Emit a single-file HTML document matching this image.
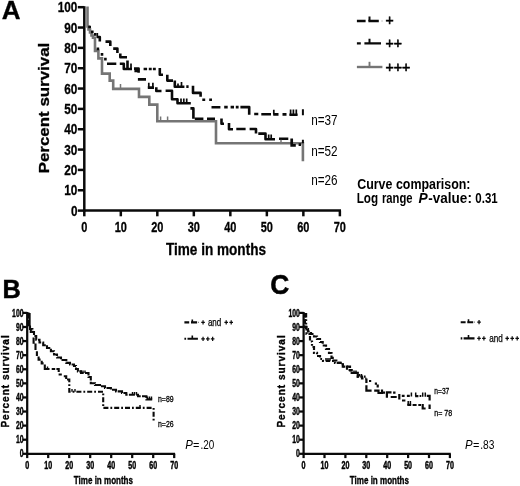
<!DOCTYPE html>
<html><head><meta charset="utf-8"><title>Survival curves</title>
<style>
html,body{margin:0;padding:0;background:#fff;}
body{width:520px;height:486px;overflow:hidden;}
svg{display:block;font-family:"Liberation Sans", sans-serif;filter:grayscale(1) blur(0.4px);}
text{font-family:"Liberation Sans", sans-serif;}
</style></head>
<body>
<svg width="520" height="486" viewBox="0 0 520 486">
<rect width="520" height="486" fill="#ffffff"/>
<g opacity="0.999">
<g stroke="#0a0a0a" stroke-width="2.5" fill="none" stroke-linecap="butt">
<path d="M84.3,6.2 V211.6"/>
<path d="M83.3,210.6 H341"/>
<path d="M77.8,210.60 H84.3"/>
<path d="M77.8,190.26 H84.3"/>
<path d="M77.8,169.92 H84.3"/>
<path d="M77.8,149.58 H84.3"/>
<path d="M77.8,129.24 H84.3"/>
<path d="M77.8,108.90 H84.3"/>
<path d="M77.8,88.56 H84.3"/>
<path d="M77.8,68.22 H84.3"/>
<path d="M77.8,47.88 H84.3"/>
<path d="M77.8,27.54 H84.3"/>
<path d="M77.8,7.20 H84.3"/>
<path d="M84.30,210.6 V216.3"/>
<path d="M120.81,210.6 V216.3"/>
<path d="M157.32,210.6 V216.3"/>
<path d="M193.83,210.6 V216.3"/>
<path d="M230.34,210.6 V216.3"/>
<path d="M266.85,210.6 V216.3"/>
<path d="M303.36,210.6 V216.3"/>
<path d="M339.87,210.6 V216.3"/>
</g>
<text x="77.4" y="215.8" font-size="14.8" font-weight="bold" text-anchor="end" fill="#000" textLength="6.5" lengthAdjust="spacingAndGlyphs" stroke="#000" stroke-width="0.3">0</text>
<text x="77.4" y="195.46" font-size="14.8" font-weight="bold" text-anchor="end" fill="#000" textLength="13.1" lengthAdjust="spacingAndGlyphs" stroke="#000" stroke-width="0.3">10</text>
<text x="77.4" y="175.12" font-size="14.8" font-weight="bold" text-anchor="end" fill="#000" textLength="13.1" lengthAdjust="spacingAndGlyphs" stroke="#000" stroke-width="0.3">20</text>
<text x="77.4" y="154.78" font-size="14.8" font-weight="bold" text-anchor="end" fill="#000" textLength="13.1" lengthAdjust="spacingAndGlyphs" stroke="#000" stroke-width="0.3">30</text>
<text x="77.4" y="134.44" font-size="14.8" font-weight="bold" text-anchor="end" fill="#000" textLength="13.1" lengthAdjust="spacingAndGlyphs" stroke="#000" stroke-width="0.3">40</text>
<text x="77.4" y="114.1" font-size="14.8" font-weight="bold" text-anchor="end" fill="#000" textLength="13.1" lengthAdjust="spacingAndGlyphs" stroke="#000" stroke-width="0.3">50</text>
<text x="77.4" y="93.76" font-size="14.8" font-weight="bold" text-anchor="end" fill="#000" textLength="13.1" lengthAdjust="spacingAndGlyphs" stroke="#000" stroke-width="0.3">60</text>
<text x="77.4" y="73.42" font-size="14.8" font-weight="bold" text-anchor="end" fill="#000" textLength="13.1" lengthAdjust="spacingAndGlyphs" stroke="#000" stroke-width="0.3">70</text>
<text x="77.4" y="53.08" font-size="14.8" font-weight="bold" text-anchor="end" fill="#000" textLength="13.1" lengthAdjust="spacingAndGlyphs" stroke="#000" stroke-width="0.3">80</text>
<text x="77.4" y="32.74" font-size="14.8" font-weight="bold" text-anchor="end" fill="#000" textLength="13.1" lengthAdjust="spacingAndGlyphs" stroke="#000" stroke-width="0.3">90</text>
<text x="77.4" y="12.4" font-size="14.8" font-weight="bold" text-anchor="end" fill="#000" textLength="19.6" lengthAdjust="spacingAndGlyphs" stroke="#000" stroke-width="0.3">100</text>
<text x="84.3" y="232.2" font-size="15.0" font-weight="bold" text-anchor="middle" fill="#000" textLength="6.1" lengthAdjust="spacingAndGlyphs" stroke="#000" stroke-width="0.3">0</text>
<text x="120.81" y="232.2" font-size="15.0" font-weight="bold" text-anchor="middle" fill="#000" textLength="12.2" lengthAdjust="spacingAndGlyphs" stroke="#000" stroke-width="0.3">10</text>
<text x="157.32" y="232.2" font-size="15.0" font-weight="bold" text-anchor="middle" fill="#000" textLength="12.2" lengthAdjust="spacingAndGlyphs" stroke="#000" stroke-width="0.3">20</text>
<text x="193.83" y="232.2" font-size="15.0" font-weight="bold" text-anchor="middle" fill="#000" textLength="12.2" lengthAdjust="spacingAndGlyphs" stroke="#000" stroke-width="0.3">30</text>
<text x="230.34" y="232.2" font-size="15.0" font-weight="bold" text-anchor="middle" fill="#000" textLength="12.2" lengthAdjust="spacingAndGlyphs" stroke="#000" stroke-width="0.3">40</text>
<text x="266.85" y="232.2" font-size="15.0" font-weight="bold" text-anchor="middle" fill="#000" textLength="12.2" lengthAdjust="spacingAndGlyphs" stroke="#000" stroke-width="0.3">50</text>
<text x="303.36" y="232.2" font-size="15.0" font-weight="bold" text-anchor="middle" fill="#000" textLength="12.2" lengthAdjust="spacingAndGlyphs" stroke="#000" stroke-width="0.3">60</text>
<text x="339.87" y="232.2" font-size="15.0" font-weight="bold" text-anchor="middle" fill="#000" textLength="12.2" lengthAdjust="spacingAndGlyphs" stroke="#000" stroke-width="0.3">70</text>
<text x="166" y="254.5" font-size="15.6" font-weight="bold" text-anchor="start" fill="#000" textLength="100" lengthAdjust="spacingAndGlyphs" stroke="#000" stroke-width="0.3">Time in months</text>
<text x="48.6" y="173.3" font-size="14.6" font-weight="bold" text-anchor="start" fill="#000" textLength="130.6" lengthAdjust="spacingAndGlyphs" transform="rotate(-90 48.6 173.3)" stroke="#000" stroke-width="0.3">Percent survival</text>
<text x="1.7" y="19.2" font-size="26" font-weight="bold" text-anchor="start" fill="#000" textLength="18.8" lengthAdjust="spacingAndGlyphs" stroke="#000" stroke-width="0.3">A</text>
<path d="M97,37 H99.8 V41.6 M105.5,41.6 H110.3 V46 M113.2,48.6 H117.4 V53 M120.3,53.5 V57.2 H127 M127.5,60.5 V69 H132 M143.6,69 H147.1 M148.8,69 H151.7 M152.9,69 H155.8 M159.8,68 V74.8 H163 M167.3,74.8 V80.6 H173 M174.8,80.5 V86.7 H184.4 M186.3,86.6 H188.6 M193,85.8 V92.9 H200.6 V96.8 M202.3,99.8 H205.2 M209.2,99.8 H212 M211.5,107.2 H220.4 M224.2,107.1 H227.7 M230.6,107.1 H234 M235.8,107.1 H238.6 M240.4,107.1 H249.2 V114.8 M254.2,114 H258.3 M261.3,114.3 H271 M273.2,114.4 H278.5 M282.5,114.4 H286.5 M289.4,114.8 H297.6" stroke="#0a0a0a" stroke-width="2.6" fill="none" stroke-linejoin="round"/>
<path d="M107,63.8 H116.3 M119.8,63.8 H123.8 V69 H127 M134,68.6 H138.6 V72.8 M134.4,71 H138.6 M137.9,79.4 H146 M147.8,87.6 H154 M156.3,87.3 V91 H161.5 M165.6,90.7 H172 V99.2 H177.5 V103.3 H190.8 M190.4,108.4 H193.4 V118.8 M194.8,118.8 H203.4 M207,118.8 H215 M221.5,118.4 V123.8 H224 M229,123 V129.3 H233 M236.3,129 H245.6 M249.6,129 H256 V133.6 M258.3,133.6 H265.5 V139.3 H275 M279,138.7 H288.3" stroke="#0a0a0a" stroke-width="2.6" fill="none" stroke-linejoin="round"/>
<path d="M97.3,33 V38 M131,63.5 V69 M178,83.5 V86.7 M181.5,82 V86.7 M273.8,109.8 V114.4 M290.6,109.5 V115 M293.4,109.5 V115 M296.3,109.5 V115 M148.8,82.7 V88 M152.9,82.7 V88 M181,98.4 V103.3 M183.8,98.4 V103.3 M186.7,98.4 V103.3 M268.7,134.4 V139.3 M271.2,134.4 V139.3" stroke="#0a0a0a" stroke-width="1.7" fill="none"/>
<path d="M87.5,6.4 V26.5 H88.5 V29.5 H90 V32.5 H91.5 V35.5 H93 V37.8 H95 V50.9 H98.4 V58.4 H102 V73.6 H109.7 V80.6 H113.2 V88.9 H139 V96.9 H149.3 V104.6 H157.3 V121.2 H216 V143.2 H302.9 V161.3" stroke="#757575" stroke-width="2.6" fill="none"/>
<path d="M120.5,88.9 V84 M160.6,121 V116.4 M167.6,121 V116.4 M281,143 V139.8" stroke="#757575" stroke-width="1.5" fill="none"/>
<path d="M88.2,27 H91 M91,31.8 H93.6 M94,34.4 H96.4 M96.6,48.8 H99.2 M100.7,54.4 H103.3 M104.1,59.1 H106.7 M291.7,138.4 V145.4 H295.8 M298.6,144.6 H301" stroke="#0a0a0a" stroke-width="2.7" fill="none"/>
<path d="M302.9,109.2 V115.2 M302.9,139.8 V143.2" stroke="#0a0a0a" stroke-width="2.0" fill="none"/>
<path d="M356.9,21 H365.6 M368.4,21 H378.8" stroke="#0a0a0a" stroke-width="2.5" fill="none"/>
<path d="M369.5,16.4 V21 M369.5,38.8 V43.4" stroke="#0a0a0a" stroke-width="2.0" fill="none"/>
<path d="M381.5,21 H382.6" stroke="#999" stroke-width="1.2" fill="none"/>
<path d="M356.9,43.4 H360.8 M364.4,43.4 H381" stroke="#0a0a0a" stroke-width="2.4" fill="none"/>
<path d="M356.9,67 H382.4" stroke="#757575" stroke-width="2.4" fill="none"/>
<path d="M369.5,67 V61.8" stroke="#757575" stroke-width="1.9" fill="none"/>
<text x="385.6" y="25.1" font-size="14.4" font-weight="normal" text-anchor="start" fill="#000" textLength="8.2" lengthAdjust="spacingAndGlyphs" stroke="#000" stroke-width="0.6">+</text>
<text x="385.6" y="48.2" font-size="14.4" font-weight="normal" text-anchor="start" fill="#000" textLength="16.4" lengthAdjust="spacingAndGlyphs" stroke="#000" stroke-width="0.6">++</text>
<text x="385.6" y="71.9" font-size="14.4" font-weight="normal" text-anchor="start" fill="#000" textLength="24.8" lengthAdjust="spacingAndGlyphs" stroke="#000" stroke-width="0.6">+++</text>
<text x="311.2" y="125.1" font-size="14.1" font-weight="normal" text-anchor="start" fill="#000" textLength="26.4" lengthAdjust="spacingAndGlyphs" >n=37</text>
<text x="311.2" y="156.1" font-size="14.1" font-weight="normal" text-anchor="start" fill="#000" textLength="26.4" lengthAdjust="spacingAndGlyphs" >n=52</text>
<text x="311.2" y="184.8" font-size="14.1" font-weight="normal" text-anchor="start" fill="#000" textLength="26.4" lengthAdjust="spacingAndGlyphs" >n=26</text>
<text x="357.2" y="188.5" font-size="14.2" font-weight="bold" text-anchor="start" fill="#000" textLength="113.3" lengthAdjust="spacingAndGlyphs" >Curve comparison:</text>
<text x="356.7" y="202.6" font-size="14.2" font-weight="bold" text-anchor="start" fill="#000" textLength="21.4" lengthAdjust="spacingAndGlyphs" >Log</text>
<text x="381.9" y="202.6" font-size="14.2" font-weight="bold" text-anchor="start" fill="#000" textLength="30.6" lengthAdjust="spacingAndGlyphs" >range</text>
<text x="418.4" y="202.6" font-size="14.2" font-weight="bold" text-anchor="start" fill="#000" textLength="9.2" lengthAdjust="spacingAndGlyphs" font-style="italic" >P</text>
<text x="428.3" y="202.6" font-size="14.2" font-weight="bold" text-anchor="start" fill="#000" textLength="43.6" lengthAdjust="spacingAndGlyphs" >-value:</text>
<text x="475.3" y="202.6" font-size="14.2" font-weight="bold" text-anchor="start" fill="#000" textLength="22.4" lengthAdjust="spacingAndGlyphs" >0.31</text>
<g stroke="#0a0a0a" stroke-width="2.25" fill="none">
<path d="M27.2,312.00 V454.70"/>
<path d="M26.30,453.8 H175.10"/>
<path d="M22.80,453.80 H27.2"/>
<path d="M22.80,439.71 H27.2"/>
<path d="M22.80,425.62 H27.2"/>
<path d="M22.80,411.53 H27.2"/>
<path d="M22.80,397.44 H27.2"/>
<path d="M22.80,383.35 H27.2"/>
<path d="M22.80,369.26 H27.2"/>
<path d="M22.80,355.17 H27.2"/>
<path d="M22.80,341.08 H27.2"/>
<path d="M22.80,326.99 H27.2"/>
<path d="M22.80,312.90 H27.2"/>
<path d="M27.20,453.8 V458.10"/>
<path d="M48.20,453.8 V458.10"/>
<path d="M69.20,453.8 V458.10"/>
<path d="M90.20,453.8 V458.10"/>
<path d="M111.20,453.8 V458.10"/>
<path d="M132.20,453.8 V458.10"/>
<path d="M153.20,453.8 V458.10"/>
<path d="M174.20,453.8 V458.10"/>
</g>
<text x="23.5" y="457.4" font-size="10.1" font-weight="bold" text-anchor="end" fill="#000" textLength="3.8" lengthAdjust="spacingAndGlyphs" stroke="#000" stroke-width="0.4">0</text>
<text x="23.5" y="443.31" font-size="10.1" font-weight="bold" text-anchor="end" fill="#000" textLength="7.6" lengthAdjust="spacingAndGlyphs" stroke="#000" stroke-width="0.4">10</text>
<text x="23.5" y="429.22" font-size="10.1" font-weight="bold" text-anchor="end" fill="#000" textLength="7.6" lengthAdjust="spacingAndGlyphs" stroke="#000" stroke-width="0.4">20</text>
<text x="23.5" y="415.13" font-size="10.1" font-weight="bold" text-anchor="end" fill="#000" textLength="7.6" lengthAdjust="spacingAndGlyphs" stroke="#000" stroke-width="0.4">30</text>
<text x="23.5" y="401.04" font-size="10.1" font-weight="bold" text-anchor="end" fill="#000" textLength="7.6" lengthAdjust="spacingAndGlyphs" stroke="#000" stroke-width="0.4">40</text>
<text x="23.5" y="386.95" font-size="10.1" font-weight="bold" text-anchor="end" fill="#000" textLength="7.6" lengthAdjust="spacingAndGlyphs" stroke="#000" stroke-width="0.4">50</text>
<text x="23.5" y="372.86" font-size="10.1" font-weight="bold" text-anchor="end" fill="#000" textLength="7.6" lengthAdjust="spacingAndGlyphs" stroke="#000" stroke-width="0.4">60</text>
<text x="23.5" y="358.77" font-size="10.1" font-weight="bold" text-anchor="end" fill="#000" textLength="7.6" lengthAdjust="spacingAndGlyphs" stroke="#000" stroke-width="0.4">70</text>
<text x="23.5" y="344.68" font-size="10.1" font-weight="bold" text-anchor="end" fill="#000" textLength="7.6" lengthAdjust="spacingAndGlyphs" stroke="#000" stroke-width="0.4">80</text>
<text x="23.5" y="330.59" font-size="10.1" font-weight="bold" text-anchor="end" fill="#000" textLength="7.6" lengthAdjust="spacingAndGlyphs" stroke="#000" stroke-width="0.4">90</text>
<text x="23.5" y="316.5" font-size="10.1" font-weight="bold" text-anchor="end" fill="#000" textLength="11.4" lengthAdjust="spacingAndGlyphs" stroke="#000" stroke-width="0.4">100</text>
<text x="27.2" y="468.8" font-size="10.0" font-weight="bold" text-anchor="middle" fill="#000" textLength="4.0" lengthAdjust="spacingAndGlyphs" stroke="#000" stroke-width="0.45">0</text>
<text x="48.2" y="468.8" font-size="10.0" font-weight="bold" text-anchor="middle" fill="#000" textLength="7.9" lengthAdjust="spacingAndGlyphs" stroke="#000" stroke-width="0.45">10</text>
<text x="69.2" y="468.8" font-size="10.0" font-weight="bold" text-anchor="middle" fill="#000" textLength="7.9" lengthAdjust="spacingAndGlyphs" stroke="#000" stroke-width="0.45">20</text>
<text x="90.2" y="468.8" font-size="10.0" font-weight="bold" text-anchor="middle" fill="#000" textLength="7.9" lengthAdjust="spacingAndGlyphs" stroke="#000" stroke-width="0.45">30</text>
<text x="111.2" y="468.8" font-size="10.0" font-weight="bold" text-anchor="middle" fill="#000" textLength="7.9" lengthAdjust="spacingAndGlyphs" stroke="#000" stroke-width="0.45">40</text>
<text x="132.2" y="468.8" font-size="10.0" font-weight="bold" text-anchor="middle" fill="#000" textLength="7.9" lengthAdjust="spacingAndGlyphs" stroke="#000" stroke-width="0.45">50</text>
<text x="153.2" y="468.8" font-size="10.0" font-weight="bold" text-anchor="middle" fill="#000" textLength="7.9" lengthAdjust="spacingAndGlyphs" stroke="#000" stroke-width="0.45">60</text>
<text x="174.2" y="468.8" font-size="10.0" font-weight="bold" text-anchor="middle" fill="#000" textLength="7.9" lengthAdjust="spacingAndGlyphs" stroke="#000" stroke-width="0.45">70</text>
<text x="2.4" y="297.5" font-size="26.2" font-weight="bold" text-anchor="start" fill="#000" textLength="18.3" lengthAdjust="spacingAndGlyphs" stroke="#000" stroke-width="0.5">B</text>
<text x="8.6" y="427.6" font-size="10.0" font-weight="bold" textLength="92.3" lengthAdjust="spacing" transform="rotate(-90 8.6 427.6)" stroke="#000" stroke-width="0.35">Percent survival</text>
<text x="73.8" y="483.6" font-size="10.9" font-weight="bold" text-anchor="start" fill="#000" textLength="59.2" lengthAdjust="spacingAndGlyphs" stroke="#000" stroke-width="0.35">Time in months</text>
<g stroke="#0a0a0a" stroke-width="2.25" fill="none">
<path d="M303.6,312.00 V454.70"/>
<path d="M302.70,453.8 H450.80"/>
<path d="M299.20,453.80 H303.6"/>
<path d="M299.20,439.71 H303.6"/>
<path d="M299.20,425.62 H303.6"/>
<path d="M299.20,411.53 H303.6"/>
<path d="M299.20,397.44 H303.6"/>
<path d="M299.20,383.35 H303.6"/>
<path d="M299.20,369.26 H303.6"/>
<path d="M299.20,355.17 H303.6"/>
<path d="M299.20,341.08 H303.6"/>
<path d="M299.20,326.99 H303.6"/>
<path d="M299.20,312.90 H303.6"/>
<path d="M303.60,453.8 V458.10"/>
<path d="M324.50,453.8 V458.10"/>
<path d="M345.40,453.8 V458.10"/>
<path d="M366.30,453.8 V458.10"/>
<path d="M387.20,453.8 V458.10"/>
<path d="M408.10,453.8 V458.10"/>
<path d="M429.00,453.8 V458.10"/>
<path d="M449.90,453.8 V458.10"/>
</g>
<text x="299.9" y="457.4" font-size="10.1" font-weight="bold" text-anchor="end" fill="#000" textLength="3.8" lengthAdjust="spacingAndGlyphs" stroke="#000" stroke-width="0.4">0</text>
<text x="299.9" y="443.31" font-size="10.1" font-weight="bold" text-anchor="end" fill="#000" textLength="7.6" lengthAdjust="spacingAndGlyphs" stroke="#000" stroke-width="0.4">10</text>
<text x="299.9" y="429.22" font-size="10.1" font-weight="bold" text-anchor="end" fill="#000" textLength="7.6" lengthAdjust="spacingAndGlyphs" stroke="#000" stroke-width="0.4">20</text>
<text x="299.9" y="415.13" font-size="10.1" font-weight="bold" text-anchor="end" fill="#000" textLength="7.6" lengthAdjust="spacingAndGlyphs" stroke="#000" stroke-width="0.4">30</text>
<text x="299.9" y="401.04" font-size="10.1" font-weight="bold" text-anchor="end" fill="#000" textLength="7.6" lengthAdjust="spacingAndGlyphs" stroke="#000" stroke-width="0.4">40</text>
<text x="299.9" y="386.95" font-size="10.1" font-weight="bold" text-anchor="end" fill="#000" textLength="7.6" lengthAdjust="spacingAndGlyphs" stroke="#000" stroke-width="0.4">50</text>
<text x="299.9" y="372.86" font-size="10.1" font-weight="bold" text-anchor="end" fill="#000" textLength="7.6" lengthAdjust="spacingAndGlyphs" stroke="#000" stroke-width="0.4">60</text>
<text x="299.9" y="358.77" font-size="10.1" font-weight="bold" text-anchor="end" fill="#000" textLength="7.6" lengthAdjust="spacingAndGlyphs" stroke="#000" stroke-width="0.4">70</text>
<text x="299.9" y="344.68" font-size="10.1" font-weight="bold" text-anchor="end" fill="#000" textLength="7.6" lengthAdjust="spacingAndGlyphs" stroke="#000" stroke-width="0.4">80</text>
<text x="299.9" y="330.59" font-size="10.1" font-weight="bold" text-anchor="end" fill="#000" textLength="7.6" lengthAdjust="spacingAndGlyphs" stroke="#000" stroke-width="0.4">90</text>
<text x="299.9" y="316.5" font-size="10.1" font-weight="bold" text-anchor="end" fill="#000" textLength="11.4" lengthAdjust="spacingAndGlyphs" stroke="#000" stroke-width="0.4">100</text>
<text x="303.6" y="468.8" font-size="10.0" font-weight="bold" text-anchor="middle" fill="#000" textLength="4.0" lengthAdjust="spacingAndGlyphs" stroke="#000" stroke-width="0.45">0</text>
<text x="324.5" y="468.8" font-size="10.0" font-weight="bold" text-anchor="middle" fill="#000" textLength="7.9" lengthAdjust="spacingAndGlyphs" stroke="#000" stroke-width="0.45">10</text>
<text x="345.4" y="468.8" font-size="10.0" font-weight="bold" text-anchor="middle" fill="#000" textLength="7.9" lengthAdjust="spacingAndGlyphs" stroke="#000" stroke-width="0.45">20</text>
<text x="366.3" y="468.8" font-size="10.0" font-weight="bold" text-anchor="middle" fill="#000" textLength="7.9" lengthAdjust="spacingAndGlyphs" stroke="#000" stroke-width="0.45">30</text>
<text x="387.2" y="468.8" font-size="10.0" font-weight="bold" text-anchor="middle" fill="#000" textLength="7.9" lengthAdjust="spacingAndGlyphs" stroke="#000" stroke-width="0.45">40</text>
<text x="408.1" y="468.8" font-size="10.0" font-weight="bold" text-anchor="middle" fill="#000" textLength="7.9" lengthAdjust="spacingAndGlyphs" stroke="#000" stroke-width="0.45">50</text>
<text x="429.0" y="468.8" font-size="10.0" font-weight="bold" text-anchor="middle" fill="#000" textLength="7.9" lengthAdjust="spacingAndGlyphs" stroke="#000" stroke-width="0.45">60</text>
<text x="449.9" y="468.8" font-size="10.0" font-weight="bold" text-anchor="middle" fill="#000" textLength="7.9" lengthAdjust="spacingAndGlyphs" stroke="#000" stroke-width="0.45">70</text>
<text x="270.3" y="294.3" font-size="27.2" font-weight="bold" text-anchor="start" fill="#000" textLength="19.0" lengthAdjust="spacingAndGlyphs" stroke="#000" stroke-width="0.5">C</text>
<text x="284.6" y="427.6" font-size="10.0" font-weight="bold" textLength="92.3" lengthAdjust="spacing" transform="rotate(-90 284.6 427.6)" stroke="#000" stroke-width="0.35">Percent survival</text>
<text x="349.8" y="483.6" font-size="10.9" font-weight="bold" text-anchor="start" fill="#000" textLength="59.2" lengthAdjust="spacingAndGlyphs" stroke="#000" stroke-width="0.35">Time in months</text>
<path d="M28.6,312.6 V326.6 H30 V329 H32.4 V332 H34 V336 H36.2 V339.7 H39.5 V342.5 H43.2 V345.2 H47 V348 H50.9 V351.3 H54 V354.5 H57 V357.5 H61 V360 H66.3 V362.9 H70 V364.5 H74 V366 H76 V369 H77.9 V371.4 H81 V373 H88.5 V377 H90.8 V383.2 H95 V385 H100 V386.3 H105 V388 H110.9 V389.8 H116 V391.4 H122 V393 H126.3 V394.8 H138 V396.3 H146.4 V399.4 H153" stroke="#0a0a0a" stroke-width="2.1" fill="none" stroke-dasharray="6 1.3"/>
<path d="M29.6,313 V326.8 M30.8,328 V333 M33.6,337.6 V343.8 M35.5,343.6 V350 M36.9,351.2 V356 M38.6,356.6 V359.6 H40.6 M41.7,360.8 V363.4 H43.6 M44.8,364.4 V369 H49.5 M51.7,369 H55.2 M56.4,369 H58.7 V372 M58.6,374.5 H61.8 M63.8,376.2 H66.2 V379" stroke="#0a0a0a" stroke-width="2.1" fill="none"/>
<path d="M67,379.5 H69.3 V391.7 H103.2 V407.9 H153.6 V420.4" stroke="#0a0a0a" stroke-width="2.1" fill="none" stroke-dasharray="5 2 1.8 2"/>
<path d="M81,373 V370.5 M83,373 V370.5 M85,373 V370.5 M47.5,369 V366.5 M72,391.7 V389 M75,391.7 V389 M132.5,394.8 V392 M134.5,394.8 V392 M136.5,394.8 V392 M147.5,399.4 V396.5 M149.5,399.4 V396.5 M151.5,399.4 V396.5 M140,407.9 V405" stroke="#0a0a0a" stroke-width="1.4" fill="none"/>
<path d="M184.4,322.4 H189.2 M191,322.4 H197.1" stroke="#0a0a0a" stroke-width="2.1" fill="none"/>
<path d="M192.3,322.4 V319.4 M192.3,338.8 V335.4 M468.5,322.2 V319.2 M468.5,338.4 V335" stroke="#0a0a0a" stroke-width="1.6" fill="none"/>
<path d="M198,322.4 H199" stroke="#888" stroke-width="1.2" fill="none"/>
<path d="M184.4,338.8 H186.1 M187.5,338.8 H197.9" stroke="#0a0a0a" stroke-width="2.1" fill="none"/>
<path d="M201.25,322.4 H204.85 M203.05,320.30 V324.50 M224.40,322.4 H228.00 M226.2,320.30 V324.50 M229.40,322.4 H233.00 M231.2,320.30 V324.50 M201.25,338.8 H204.85 M203.05,336.70 V340.90 M206.05,338.8 H209.65 M207.85,336.70 V340.90 M210.85,338.8 H214.45 M212.65,336.70 V340.90" stroke="#0a0a0a" stroke-width="1.2" fill="none"/>
<text x="207.9" y="325.8" font-size="10.5" font-weight="normal" text-anchor="start" fill="#000" textLength="13.4" lengthAdjust="spacingAndGlyphs" stroke="#000" stroke-width="0.25">and</text>
<text x="158" y="401.6" font-size="8.5" font-weight="normal" text-anchor="start" fill="#000" textLength="15.6" lengthAdjust="spacingAndGlyphs" stroke="#000" stroke-width="0.3">n=89</text>
<text x="158" y="426.5" font-size="8.5" font-weight="normal" text-anchor="start" fill="#000" textLength="15.6" lengthAdjust="spacingAndGlyphs" stroke="#000" stroke-width="0.3">n=26</text>
<text x="185.2" y="449.2" font-size="13.5" font-weight="normal" text-anchor="start" fill="#000" textLength="7.6" lengthAdjust="spacingAndGlyphs" font-style="italic" >P</text>
<text x="192.9" y="449.2" font-size="13.5" font-weight="normal" text-anchor="start" fill="#000" textLength="6.4" lengthAdjust="spacingAndGlyphs" >=</text>
<text x="200.6" y="449.2" font-size="13.5" font-weight="normal" text-anchor="start" fill="#000" textLength="13.8" lengthAdjust="spacingAndGlyphs" >.20</text>
<path d="M304.9,312.9 V326.9 H306 V329 H308 V331.5 H311 V334 H314 V336.5 H317 V339 H320 V342 H322.7 V345.5 H326 V349 H329 V353 H331.5 V357.8 H334 V360.5 H337.8 V362.8 H342.8 V366.6 H347 V370 H351.7 V373 H357.8 V376.6 H362 V378.5 H366.4" stroke="#0a0a0a" stroke-width="2.2" fill="none" stroke-dasharray="4.5 1.8"/>
<path d="M306.1,312.9 V326.9 H306.5 V334 H310 V341.5 H312 V347 H314 V352.8 H317 V356 H320 V359 H323 V360.8 H335 V362.8 H342.8 V366.6 H350 V372.8 H357.8 V376.6 H365.6" stroke="#0a0a0a" stroke-width="2.2" fill="none" stroke-dasharray="4.5 1.8 1.8 1.8 1.8 1.8"/>
<path d="M366.4,378.5 V383 M366.4,385.3 V390.7 H371.6 M374.2,390.7 H377.7 M378.5,389.4 V393 H382 V389.6 M382,392.6 H385 M386.9,397.8 V392.4 H391.5 M390.7,397 H396.7 M402,400.5 H405.4 M407.3,404.9 H411.2 M412.6,405 H416.6 M418.3,405 H421 M422.7,404 V408.5 H425.6 M429.6,409 V404.6 M369,381 H371.2 M374.8,383.7 H377 M377.7,384.4 V387.6 M393.1,392.6 H395.5 M399.3,394 V399.5 M401.8,395.9 H404.6 M406.9,395.9 H409.8 M415.2,396.2 H418.4 M419.6,396 H421.3 M426.8,395.9 H429.6 V400.4" stroke="#0a0a0a" stroke-width="2.2" fill="none"/>
<path d="M326,360.8 V358 M328,360.8 V358 M330,360.8 V358 M354,373 V370.5 M356,373 V370.5 M359.5,376.6 V374 M361.5,376.6 V374 M411.4,392.4 V396.5 M415.7,392.4 V396.5 M422.7,392.4 V396.7 M425.3,392.4 V396.7 M408.2,401 V405 M410.4,401 V405" stroke="#0a0a0a" stroke-width="1.5" fill="none"/>
<path d="M460.7,322.2 H465.6 M467.3,322.2 H473.2" stroke="#0a0a0a" stroke-width="2.1" fill="none"/>
<path d="M474,322.2 H475" stroke="#888" stroke-width="1.2" fill="none"/>
<path d="M460.7,338.4 H462.3 M463.6,338.4 H474.5" stroke="#0a0a0a" stroke-width="2.1" fill="none"/>
<path d="M477.25,322.2 H480.85 M479.05,320.10 V324.30 M477.20,338.4 H480.80 M479.0,336.30 V340.50 M482.10,338.4 H485.70 M483.9,336.30 V340.50 M505.40,338.4 H509.00 M507.2,336.30 V340.50 M510.40,338.4 H514.00 M512.2,336.30 V340.50 M515.40,338.4 H519.00 M517.2,336.30 V340.50" stroke="#0a0a0a" stroke-width="1.2" fill="none"/>
<text x="489.2" y="341.6" font-size="10.6" font-weight="normal" text-anchor="start" fill="#000" textLength="13.6" lengthAdjust="spacingAndGlyphs" stroke="#000" stroke-width="0.25">and</text>
<text x="434.3" y="394.4" font-size="8.5" font-weight="normal" text-anchor="start" fill="#000" textLength="15.0" lengthAdjust="spacingAndGlyphs" stroke="#000" stroke-width="0.3">n=37</text>
<text x="434.3" y="416.0" font-size="8.5" font-weight="normal" text-anchor="start" fill="#000" textLength="17.8" lengthAdjust="spacingAndGlyphs" stroke="#000" stroke-width="0.3">n= 78</text>
<text x="465.1" y="449.2" font-size="13.5" font-weight="normal" text-anchor="start" fill="#000" textLength="7.6" lengthAdjust="spacingAndGlyphs" font-style="italic" >P</text>
<text x="473.0" y="449.2" font-size="13.5" font-weight="normal" text-anchor="start" fill="#000" textLength="6.4" lengthAdjust="spacingAndGlyphs" >=</text>
<text x="480.2" y="449.2" font-size="13.5" font-weight="normal" text-anchor="start" fill="#000" textLength="14.2" lengthAdjust="spacingAndGlyphs" >.83</text>
</g>
</svg>
</body></html>
